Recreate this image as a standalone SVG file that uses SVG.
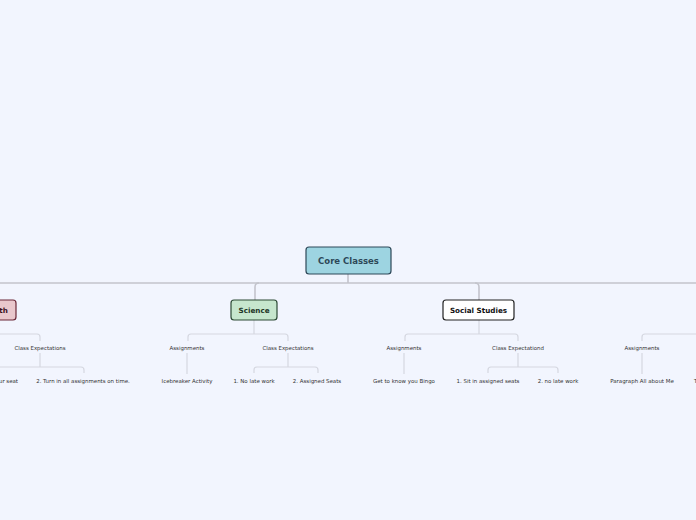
<svg xmlns="http://www.w3.org/2000/svg" width="696" height="520" viewBox="0 0 696 520">
<style>
.bg{fill:#f2f5fe}
.main{fill:none;stroke:#c3c4cc;stroke-width:1.6}
.sub{fill:none;stroke:#d5d7e0;stroke-width:1.2}
.node{stroke-width:1.2}
.t1{font-family:"DejaVu Sans",Verdana,sans-serif;font-weight:bold;font-size:8.5px;text-anchor:middle}
.t2{font-family:"DejaVu Sans",Verdana,sans-serif;font-weight:bold;font-size:7.2px;text-anchor:middle}
.lb{font-family:"DejaVu Sans",Verdana,sans-serif;font-size:5.45px;text-anchor:middle;fill:#333}
</style>
<rect class="bg" x="0" y="0" width="696" height="520"/>
<g id="connectors">
<path class="main" d="M348 274V283M0 283H696"/>
<path class="main" d="M255 300V287Q255 283 259 283"/>
<path class="main" d="M479 300V287Q479 283 475 283"/>
<path class="sub" d="M254 320V334M188 341V337Q188 334 191 334H285Q288 334 288 337V341"/>
<path class="sub" d="M187 353V374M288 353V367M254 373V370Q254 367 257 367H315Q318 367 318 370V373"/>
<path class="sub" d="M479 320V334M405 341V337Q405 334 408 334H515Q518 334 518 337V341"/>
<path class="sub" d="M404 353V374M518 353V367M488 373V370Q488 367 491 367H555Q558 367 558 370V373"/>
<path class="sub" d="M0 334H37Q40 334 40 337V341M40 353V367M0 367H81Q84 367 84 370V373"/>
<path class="sub" d="M696 334H645Q642 334 642 337V341M642 353V374"/>
</g>
<g id="core"><rect class="node" x="306" y="247" width="85" height="27" rx="3" fill="#9dd4e1" stroke="#2d4858"/><text class="t1" x="348.5" y="263.8" fill="#2d4858">Core Classes</text></g>
<g id="math"><rect class="node" x="-24" y="300" width="40" height="20" rx="3" fill="#e9c7cc" stroke="#6b2838"/><text class="t2" x="-2.5" y="312.5" fill="#3a1020">Math</text></g>
<g id="science"><rect class="node" x="231" y="300" width="46" height="20" rx="3" fill="#c6e6cd" stroke="#2c4a35"/><text class="t2" x="254" y="312.5" fill="#1e3526">Science</text></g>
<g id="social"><rect class="node" x="443" y="300" width="71" height="20" rx="3" fill="#ffffff" stroke="#222"/><text class="t2" x="478.5" y="312.5" fill="#111">Social Studies</text></g>
<g id="math-ce"><text class="lb" x="40" y="350">Class Expectations</text></g>
<g id="math-1"><text class="lb" x="18" y="383" style="text-anchor:end">1. Stay in your seat</text></g>
<g id="math-2"><text class="lb" x="83" y="383">2. Turn in all assignments on time.</text></g>
<g id="sci-a"><text class="lb" x="187" y="350">Assignments</text></g>
<g id="sci-ce"><text class="lb" x="288" y="350">Class Expectations</text></g>
<g id="sci-a1"><text class="lb" x="187" y="383">Icebreaker Activity</text></g>
<g id="sci-1"><text class="lb" x="254" y="383">1. No late work</text></g>
<g id="sci-2"><text class="lb" x="317" y="383">2. Assigned Seats</text></g>
<g id="ss-a"><text class="lb" x="404" y="350">Assignments</text></g>
<g id="ss-ce"><text class="lb" x="518" y="350">Class Expectationd</text></g>
<g id="ss-a1"><text class="lb" x="404" y="383">Get to know you Bingo</text></g>
<g id="ss-1"><text class="lb" x="488" y="383">1. Sit in assigned seats</text></g>
<g id="ss-2"><text class="lb" x="558" y="383">2. no late work</text></g>
<g id="r-a"><text class="lb" x="642" y="350">Assignments</text></g>
<g id="r-a1"><text class="lb" x="642" y="383">Paragraph All about Me</text></g>
<g id="r-t"><text class="lb" x="694" y="383" style="text-anchor:start">T</text></g>
</svg>
